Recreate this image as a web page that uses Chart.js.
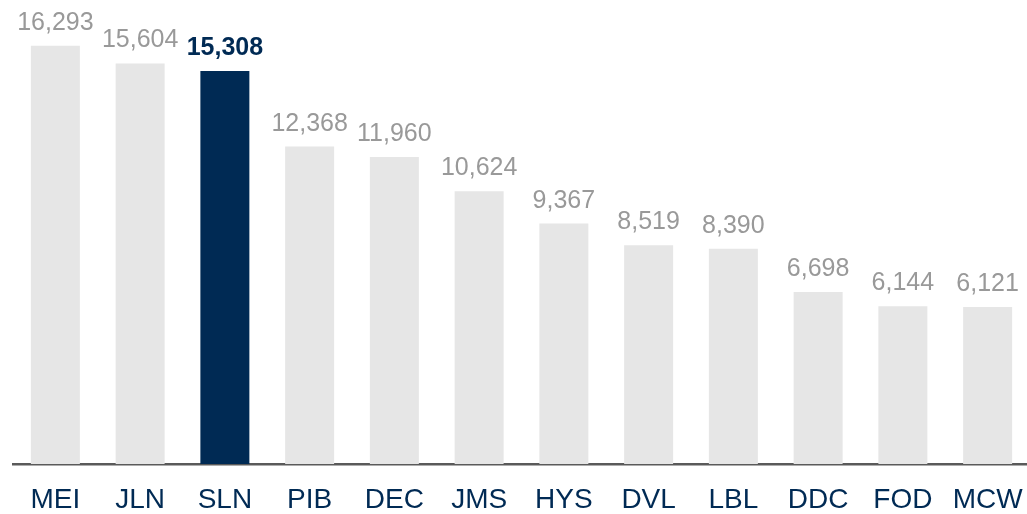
<!DOCTYPE html>
<html>
<head>
<meta charset="utf-8">
<script src="https://cdn.jsdelivr.net/npm/chart.js@4"></script>
<style>
  html, body { margin: 0; padding: 0; background: #fff; overflow: hidden; width: 1027px; height: 514px; }
  canvas { display: block; }
</style>
</head>
<body>
<canvas id="c" width="1030" height="536" style="width:1030px;height:536px"></canvas>
<script>
const categories = ["MEI", "JLN", "SLN", "PIB", "DEC", "JMS", "HYS", "DVL", "LBL", "DDC", "FOD", "MCW"];
const values = [16293, 15604, 15308, 12368, 11960, 10624, 9367, 8519, 8390, 6698, 6144, 6121];
const highlight = "SLN";

const GRAY = "#e6e6e6";
const NAVY = "#002a54";
const LABEL_GRAY = "#999999";
const FONT = "'Liberation Sans', Arial, Helvetica, sans-serif";

const barColors = categories.map(c => c === highlight ? NAVY : GRAY);

const valueLabels = {
  id: "valueLabels",
  afterDatasetsDraw(chart) {
    const ctx = chart.ctx;
    const meta = chart.getDatasetMeta(0);
    ctx.save();
    ctx.textAlign = "center";
    ctx.textBaseline = "alphabetic";
    meta.data.forEach((bar, i) => {
      const hl = categories[i] === highlight;
      ctx.font = (hl ? "bold " : "") + "25px " + FONT;
      ctx.fillStyle = hl ? NAVY : LABEL_GRAY;
      ctx.fillText(values[i].toLocaleString("en-US"), bar.x, bar.y - 16);
    });
    ctx.restore();
  }
};

new Chart(document.getElementById("c"), {
  type: "bar",
  data: {
    labels: categories,
    datasets: [{
      data: values,
      backgroundColor: barColors,
      borderWidth: 0,
      barPercentage: 0.578,
      categoryPercentage: 1.0
    }]
  },
  options: {
    responsive: false,
    maintainAspectRatio: false,
    animation: false,
    devicePixelRatio: 1,
    layout: { padding: { left: 13, right: 0, top: 2, bottom: 0 } },
    plugins: {
      legend: { display: false },
      tooltip: { enabled: false }
    },
    scales: {
      x: {
        grid: { display: false, drawTicks: false },
        border: { display: true, color: "#5a5a5a", width: 2.5 },
        ticks: {
          color: NAVY,
          font: { family: FONT, size: 28, lineHeight: "72px" },
          padding: 0,
          maxRotation: 0,
          autoSkip: false
        }
      },
      y: {
        display: false,
        min: 0,
        max: 18000
      }
    }
  },
  plugins: [valueLabels]
});
</script>
</body>
</html>
